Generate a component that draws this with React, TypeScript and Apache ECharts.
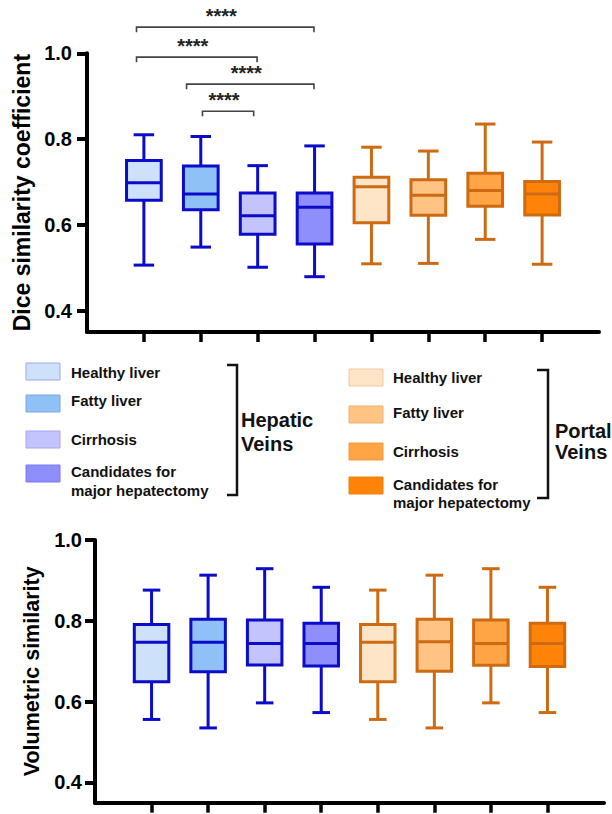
import React, { useEffect, useRef } from "react";
import * as echarts from "echarts";

// ---------- data ----------
const positions = [1, 2, 3, 4, 5, 6, 7, 8];
const conditions = ["Healthy liver", "Fatty liver", "Cirrhosis", "Candidates for\nmajor hepatectomy"];
const groupNames = ["Hepatic\nVeins", "Portal\nVeins"];

// Dice similarity coefficient (hepatic 1-4, portal 5-8)
const diceLow = [0.506, 0.548, 0.501, 0.479, 0.509, 0.51, 0.566, 0.508];
const diceQ1 = [0.657, 0.635, 0.578, 0.555, 0.605, 0.622, 0.643, 0.623];
const diceMedian = [0.698, 0.672, 0.621, 0.641, 0.689, 0.669, 0.68, 0.672];
const diceQ3 = [0.75, 0.737, 0.674, 0.674, 0.711, 0.705, 0.72, 0.701];
const diceHigh = [0.81, 0.806, 0.738, 0.784, 0.781, 0.772, 0.835, 0.793];

// Volumetric similarity
const volLow = [0.556, 0.535, 0.597, 0.573, 0.556, 0.535, 0.597, 0.573];
const volQ1 = [0.649, 0.674, 0.691, 0.688, 0.649, 0.675, 0.69, 0.687];
const volMedian = [0.747, 0.747, 0.744, 0.744, 0.747, 0.748, 0.744, 0.744];
const volQ3 = [0.791, 0.804, 0.802, 0.794, 0.791, 0.804, 0.802, 0.794];
const volHigh = [0.876, 0.913, 0.929, 0.883, 0.876, 0.913, 0.929, 0.883];

const yTicks = [0.4, 0.6, 0.8, 1.0];

// significance brackets (Dice chart)
const sigFrom = [0.87, 0.87, 1.75, 2.03];
const sigTo = [3.99, 2.99, 3.99, 2.93];
const sigLevel = [1.061, 0.991, 0.928, 0.865];
const sigLabel = ["****", "****", "****", "****"];

// ---------- styles ----------
const FONT = "'Liberation Sans', Arial, sans-serif";
const hepStroke = "#0B0BC9";
const porStroke = "#CD6A12";
const boxFills = ["#CDE2FA", "#8FC1F6", "#C3C3FE", "#8E8EFD", "#FFE5C7", "#FFC384", "#FFA545", "#FF8308"];
const swatchStrokes = ["#9AA8E8", "#7AA6E0", "#A4A4F0", "#7A7AEE", "#F0C9A0", "#F0AE70", "#F09A40", "#F08010"];

function boxSeries(xi: number, low: number[], q1: number[], med: number[], q3: number[], high: number[], capRatio: number) {
  const data = positions.map((p, i) => [p, low[i], q1[i], med[i], q3[i], high[i], i]);
  return {
    type: "custom",
    xAxisIndex: xi,
    yAxisIndex: xi,
    data,
    encode: { x: 0, y: [1, 2, 3, 4, 5] },
    renderItem: (params: any, api: any) => {
      const x = api.value(0);
      const idx = api.value(6);
      const band = api.size([1, 0])[0];
      const bw = band * 0.61;
      const cw = band * capRatio;
      const pLow = api.coord([x, api.value(1)]);
      const pQ1 = api.coord([x, api.value(2)]);
      const pMed = api.coord([x, api.value(3)]);
      const pQ3 = api.coord([x, api.value(4)]);
      const pHigh = api.coord([x, api.value(5)]);
      const cx = pMed[0];
      const stroke = idx < 4 ? hepStroke : porStroke;
      const ls = { stroke, lineWidth: 3 };
      return {
        type: "group",
        children: [
          { type: "line", shape: { x1: cx, y1: pHigh[1], x2: cx, y2: pQ3[1] }, style: ls },
          { type: "line", shape: { x1: cx, y1: pQ1[1], x2: cx, y2: pLow[1] }, style: ls },
          { type: "line", shape: { x1: cx - cw / 2, y1: pHigh[1], x2: cx + cw / 2, y2: pHigh[1] }, style: ls },
          { type: "line", shape: { x1: cx - cw / 2, y1: pLow[1], x2: cx + cw / 2, y2: pLow[1] }, style: ls },
          {
            type: "rect",
            shape: { x: cx - bw / 2, y: pQ3[1], width: bw, height: pQ1[1] - pQ3[1] },
            style: { fill: boxFills[idx], stroke, lineWidth: 3 },
          },
          { type: "line", shape: { x1: cx - bw / 2, y1: pMed[1], x2: cx + bw / 2, y2: pMed[1] }, style: ls },
        ],
      };
    },
  };
}

function sigSeries() {
  const data = sigFrom.map((f, i) => [f, sigTo[i], sigLevel[i], i]);
  return {
    type: "custom",
    xAxisIndex: 0,
    yAxisIndex: 0,
    clip: false,
    data,
    encode: { x: [0, 1], y: 2 },
    renderItem: (params: any, api: any) => {
      const a = api.coord([api.value(0), api.value(2)]);
      const b = api.coord([api.value(1), api.value(2)]);
      const idx = api.value(3);
      const leg = 5;
      return {
        type: "group",
        children: [
          {
            type: "polyline",
            shape: { points: [[a[0], a[1] + leg], [a[0], a[1]], [b[0], b[1]], [b[0], b[1] + leg]] },
            style: { stroke: "#444", lineWidth: 1.6, fill: "none" },
          },
          {
            type: "text",
            x: (a[0] + b[0]) / 2 - 4,
            y: a[1] - 11,
            style: {
              text: sigLabel[idx],
              fill: "#222",
              font: `bold 20px ${FONT}`,
              textAlign: "center",
              textVerticalAlign: "middle",
            },
          },
        ],
      };
    },
  };
}

function xAxisDef(gi: number) {
  return {
    type: "value",
    gridIndex: gi,
    min: 0,
    max: 9,
    axisLine: { show: true, lineStyle: { color: "#000", width: 4 } },
    axisTick: { show: true, customValues: positions, length: 10, inside: false, lineStyle: { color: "#000", width: 3.5 } },
    axisLabel: { show: false },
    splitLine: { show: false },
  };
}

function yAxisDef(gi: number, name: string, nameSize: number, nameGap: number, labelMargin: number) {
  return {
    type: "value",
    gridIndex: gi,
    min: 0.35,
    max: 1.0,
    name,
    nameLocation: "middle",
    nameGap,
    nameTextStyle: { fontFamily: FONT, fontWeight: "bold", fontSize: nameSize, color: "#000" },
    axisLine: { show: true, lineStyle: { color: "#000", width: 4 } },
    axisTick: { show: true, customValues: yTicks, length: 10, lineStyle: { color: "#000", width: 4 } },
    axisLabel: {
      customValues: yTicks,
      formatter: (v: number) => v.toFixed(1),
      margin: labelMargin,
      fontFamily: FONT,
      fontWeight: "bold",
      fontSize: 20,
      color: "#000",
    },
    splitLine: { show: false },
  };
}

function legendGraphics() {
  const els: any[] = [];
  const txt = (x: number, y: number, text: string, size: number, lh?: number) => ({
    type: "text",
    x,
    y,
    style: {
      text,
      fill: "#111",
      font: `bold ${size}px ${FONT}`,
      textAlign: "left",
      textVerticalAlign: "middle",
      lineHeight: lh || size * 1.2,
    },
  });
  // hepatic
  const hepSwY = [363, 395, 431, 465];
  const hepTxY = [372, 400, 439, 481];
  const porSwY = [369, 406, 443, 477];
  const porTxY = [377, 412, 451, 493.5];
  conditions.forEach((c, i) => {
    els.push({
      type: "rect",
      shape: { x: 26, y: hepSwY[i], width: 34, height: 17 },
      style: { fill: boxFills[i], stroke: swatchStrokes[i], lineWidth: 1 },
    });
    els.push(txt(71, hepTxY[i], c, 15, 18.3));
    els.push({
      type: "rect",
      shape: { x: 349, y: porSwY[i], width: 34, height: 17 },
      style: { fill: boxFills[i + 4], stroke: swatchStrokes[i + 4], lineWidth: 1 },
    });
    els.push(txt(393, porTxY[i], c, 15, 18.3));
  });
  els.push({
    type: "polyline",
    shape: { points: [[227, 365], [237, 365], [237, 495], [227, 495]] },
    style: { stroke: "#111", lineWidth: 2.5, fill: "none" },
  });
  els.push({
    type: "polyline",
    shape: { points: [[537, 370], [548, 370], [548, 498], [537, 498]] },
    style: { stroke: "#111", lineWidth: 2.5, fill: "none" },
  });
  els.push(txt(241, 432, groupNames[0], 20, 24));
  els.push(txt(555, 441, groupNames[1], 20, 21));
  return els;
}

export default function App() {
  const ref = useRef<HTMLDivElement>(null);
  useEffect(() => {
    if (!ref.current) return;
    const chart = echarts.init(ref.current, undefined, { renderer: "svg" });
    chart.setOption({
      animation: false,
      backgroundColor: "#fff",
      grid: [
        { left: 87, top: 53.3, width: 512, height: 278.7 },
        { left: 95, top: 540, width: 509, height: 262.7 },
      ],
      xAxis: [xAxisDef(0), xAxisDef(1)],
      yAxis: [
        yAxisDef(0, "Dice similarity coefficient", 23, 53, 15),
        yAxisDef(1, "Volumetric similarity", 21.5, 51, 13),
      ],
      series: [
        boxSeries(0, diceLow, diceQ1, diceMedian, diceQ3, diceHigh, 0.36),
        boxSeries(1, volLow, volQ1, volMedian, volQ3, volHigh, 0.31),
        sigSeries(),
      ],
      graphic: legendGraphics(),
    });
    return () => chart.dispose();
  }, []);
  return <div ref={ref} style={{ position: "fixed", left: 0, top: 0, width: 612, height: 814 }} />;
}
